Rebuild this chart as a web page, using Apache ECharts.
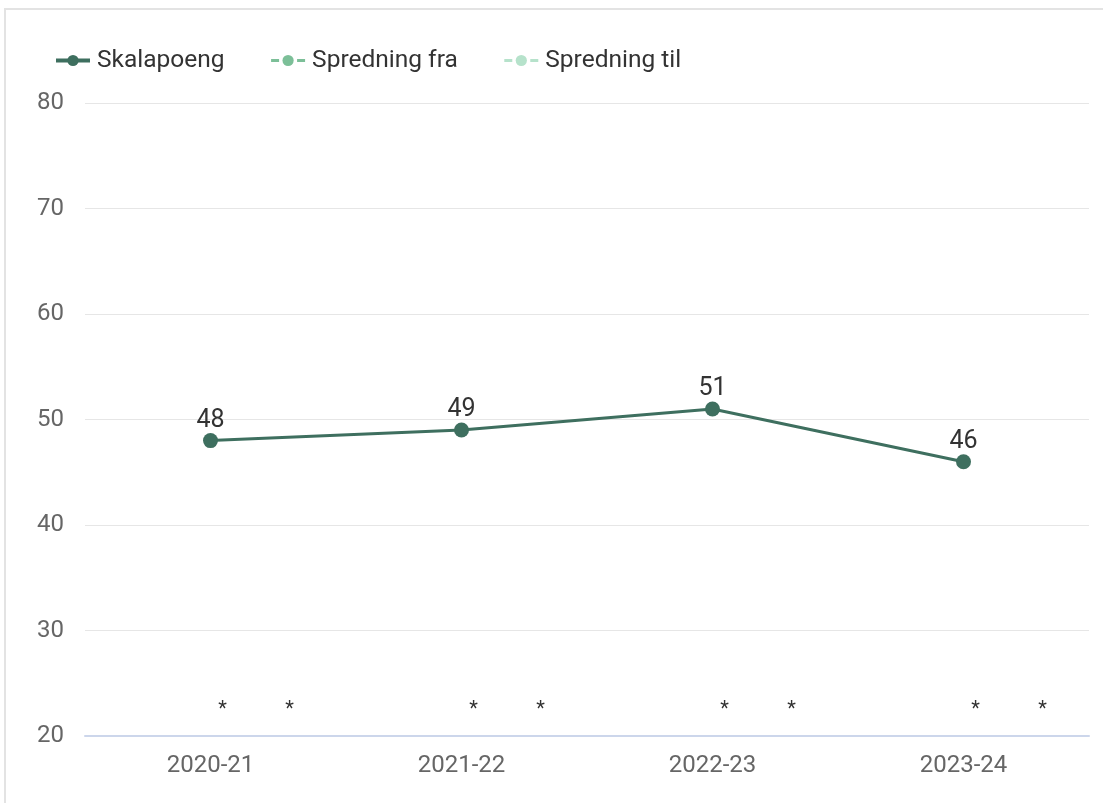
<!DOCTYPE html>
<html>
<head>
<meta charset="utf-8">
<script src="https://cdn.jsdelivr.net/npm/echarts@6/dist/echarts.min.js"></script>
<style>
  html, body { margin: 0; padding: 0; background: #fff; }
  #skalaChart { width: 1103px; height: 803px; }
  #ramme {
    position: absolute; left: 4px; top: 8px; width: 1110px; height: 810px;
    border-top: 2px solid #e3e3e3; border-left: 2px solid #e3e3e3;
    pointer-events: none;
  }
</style>
</head>
<body>
<div id="skalaChart"></div>
<div id="ramme"></div>
<script>
  // skoleår og verdier
  const aar = ['2020-21', '2021-22', '2022-23', '2023-24'];
  const skalapoeng = [48, 49, 51, 46];
  // spredning er ikke oppgitt (*), punktene står på aksens minimum
  const spredningFra = [20, 20, 20, 20];
  const spredningTil = [20, 20, 20, 20];
  const yTicks = [20, 30, 40, 50, 60, 70, 80];

  const myChart = echarts.init(document.getElementById('skalaChart'));
  const font = 'Roboto, "Noto Sans", sans-serif';
  const usynlig = 'rgba(0,0,0,0)';

  const stjerne = function (dx) {
    return {
      show: true,
      position: 'top',
      distance: 0,
      offset: [dx, -16],
      formatter: '*',
      color: '#333',
      fontSize: 20,
      fontFamily: font
    };
  };

  const option = {
    animation: false,
    textStyle: { fontFamily: font },
    legend: {
      left: 49,
      top: 43,
      itemGap: 45,
      itemWidth: 34,
      itemHeight: 14,
      textStyle: { fontSize: 24.5, color: '#333', fontFamily: font, padding: [0, 0, 0, 2] },
      data: [
        { name: 'Skalapoeng', lineStyle: { width: 4 } },
        { name: 'Spredning fra', lineStyle: { color: '#7cbf98', width: 3, type: [8, 5], opacity: 1 }, itemStyle: { color: '#7cbf98', opacity: 1 } },
        { name: 'Spredning til', lineStyle: { color: '#b6e2cb', width: 3, type: [8, 5], opacity: 1 }, itemStyle: { color: '#b6e2cb', opacity: 1 } }
      ]
    },
    grid: {
      left: 85,
      right: 14,
      top: 103,
      bottom: 67
    },
    xAxis: [{
      type: 'category',
      data: aar,
      boundaryGap: true,
      axisLine: { lineStyle: { color: '#ccd6eb', width: 2 } },
      axisTick: { show: false },
      axisLabel: { color: '#666', fontSize: 24, margin: 18, fontFamily: font }
    }],
    yAxis: [{
      type: 'value',
      min: yTicks[0],
      max: yTicks[yTicks.length - 1],
      interval: 10,
      axisLine: { show: false },
      axisTick: { show: false },
      axisLabel: { color: '#666', fontSize: 24, margin: 21, fontFamily: font },
      splitLine: { lineStyle: { color: '#e6e6e6', width: 1 } }
    }],
    series: [
      {
        name: 'Skalapoeng',
        type: 'line',
        data: skalapoeng,
        color: '#3e6f5f',
        symbol: 'circle',
        symbolSize: 15,
        lineStyle: { width: 3, color: '#3e6f5f' },
        itemStyle: { color: '#3e6f5f' },
        label: {
          show: true,
          position: 'top',
          distance: 0,
          color: '#333',
          fontSize: 25,
          fontFamily: font
        },
        z: 5
      },
      {
        name: 'Spredning fra',
        type: 'line',
        data: spredningFra,
        color: '#7cbf98',
        symbol: 'circle',
        symbolSize: 1,
        lineStyle: { color: usynlig, width: 0 },
        itemStyle: { color: usynlig, borderWidth: 0 },
        label: stjerne(12),
        silent: true
      },
      {
        name: 'Spredning til',
        type: 'line',
        data: spredningTil,
        color: '#b6e2cb',
        symbol: 'circle',
        symbolSize: 1,
        lineStyle: { color: usynlig, width: 0 },
        itemStyle: { color: usynlig, borderWidth: 0 },
        label: stjerne(79),
        silent: true
      }
    ]
  };
  myChart.setOption(option);
  window.addEventListener('resize', function () {
    myChart.resize();
  });
</script>
</body>
</html>
